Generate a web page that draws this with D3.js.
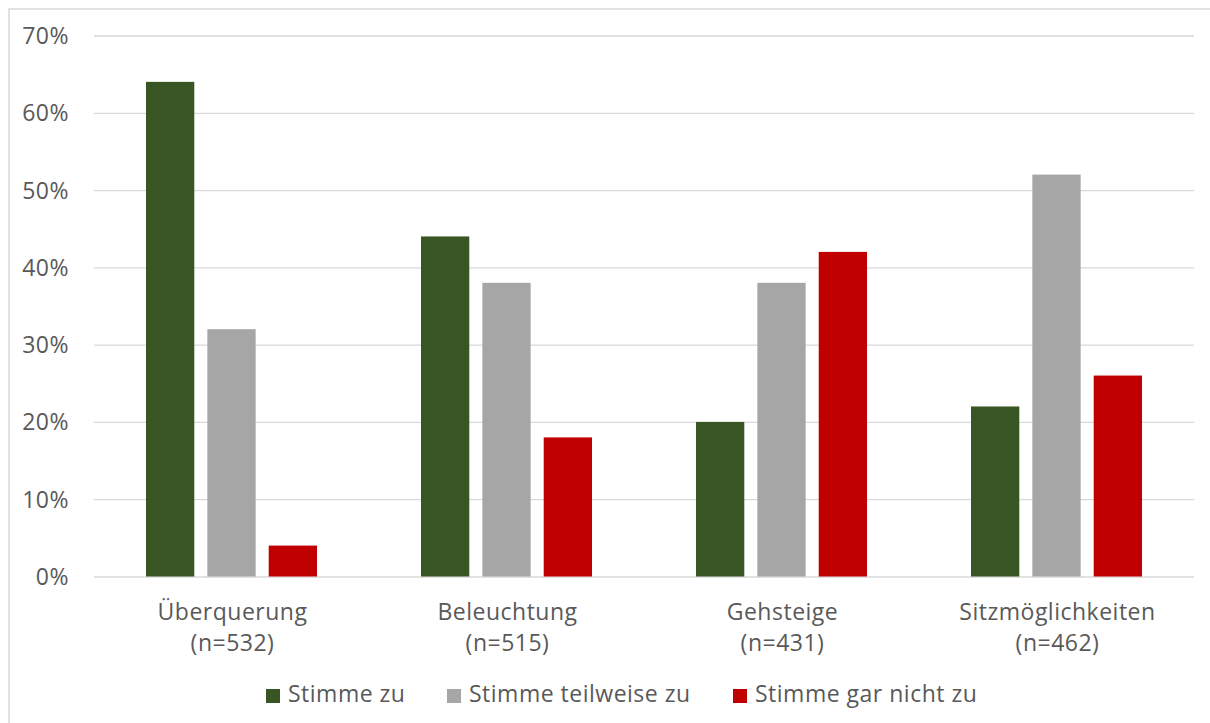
<!DOCTYPE html>
<html>
<head>
<meta charset="utf-8">
<script src="https://cdn.jsdelivr.net/npm/d3@7"></script>
<style>
  html, body { margin: 0; padding: 0; background: #fff; }
  svg { display: block; }
  text { font-family: "Open Sans", "Noto Sans", sans-serif; fill: #595959; letter-spacing: 0.5px; }
</style>
</head>
<body>
<svg id="chart" width="1210" height="723"></svg>
<script>
// Survey results per topic
const categories = ["Überquerung", "Beleuchtung", "Gehsteige", "Sitzmöglichkeiten"];
const sampleSizes = ["(n=532)", "(n=515)", "(n=431)", "(n=462)"];
const seriesNames = ["Stimme zu", "Stimme teilweise zu", "Stimme gar nicht zu"];
const stimmeZu = [0.64, 0.44, 0.20, 0.22];
const stimmeTeilweiseZu = [0.32, 0.38, 0.38, 0.52];
const stimmeGarNichtZu = [0.04, 0.18, 0.42, 0.26];
const yTicks = [0, 0.1, 0.2, 0.3, 0.4, 0.5, 0.6, 0.7];

const seriesValues = [stimmeZu, stimmeTeilweiseZu, stimmeGarNichtZu];
const colors = ["#375623", "#a6a6a6", "#c00000"];
const fontSize = "23px";

const svg = d3.select("#chart");

// chart-area frame
svg.append("rect")
  .attr("x", 9).attr("y", 9)
  .attr("width", 1300).attr("height", 800)
  .attr("fill", "none").attr("stroke", "#d9d9d9").attr("stroke-width", 1.5);

const plot = { left: 94, right: 1194, top: 35.5, bottom: 576.5 };

const y = d3.scaleLinear().domain([0, 0.7]).range([plot.bottom, plot.top]);
const x0 = d3.scaleBand().domain(categories).range([plot.left, plot.right]).paddingInner(0).paddingOuter(0);
const x1 = d3.scaleBand().domain(d3.range(seriesNames.length))
  .range([52, 223]).paddingInner(0.213).paddingOuter(0);

// gridlines + y labels
const yAxis = d3.axisLeft(y).tickValues(yTicks).tickFormat(d3.format(".0%"))
  .tickSize(-(plot.right - plot.left)).tickPadding(25);
const gy = svg.append("g").attr("transform", `translate(${plot.left},0)`).call(yAxis);
gy.select(".domain").remove();
gy.selectAll(".tick line").attr("stroke", "#d9d9d9").attr("stroke-width", 1.3);
gy.selectAll(".tick text")
  .style("font-size", fontSize).attr("fill", "#595959").attr("dy", "0.35em");

// bars
const groups = svg.append("g").selectAll("g")
  .data(categories).join("g")
  .attr("transform", d => `translate(${x0(d)},0)`);

groups.selectAll("rect")
  .data((c, i) => seriesValues.map((vals, s) => ({ s, v: vals[i] })))
  .join("rect")
  .attr("x", d => x1(d.s))
  .attr("width", x1.bandwidth())
  .attr("y", d => y(d.v))
  .attr("height", d => y(0) - y(d.v))
  .attr("fill", d => colors[d.s]);

// category labels
const labels = svg.append("g").selectAll("text")
  .data(categories).join("text")
  .attr("x", d => x0(d) + x0.bandwidth() / 2 + 1)
  .attr("y", 620)
  .attr("text-anchor", "middle")
  .style("font-size", fontSize);
labels.append("tspan").text(d => d);
labels.append("tspan")
  .attr("x", d => x0(d) + x0.bandwidth() / 2 + 1)
  .attr("dy", 31)
  .text((d, i) => sampleSizes[i]);

// legend
const legendX = [266, 447, 733];
const legend = svg.append("g").selectAll("g")
  .data(seriesNames).join("g")
  .attr("transform", (d, i) => `translate(${legendX[i]},689)`);
legend.append("rect").attr("width", 14).attr("height", 14).attr("fill", (d, i) => colors[i]);
legend.append("text").attr("x", 22).attr("y", 13).style("font-size", fontSize).text(d => d);
</script>
</body>
</html>
